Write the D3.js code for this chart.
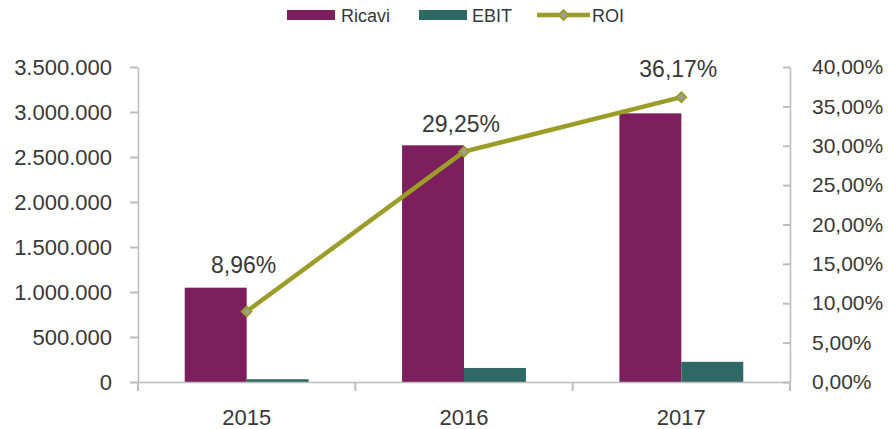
<!DOCTYPE html>
<html>
<head>
<meta charset="utf-8">
<script src="https://cdn.jsdelivr.net/npm/d3@7"></script>
<style>
  body { margin: 0; background: #fff; }
  text { font-family: "Liberation Sans", Arial, sans-serif; fill: #383838; }
</style>
</head>
<body>
<div class="chart"></div>
<script>
// data
var years = ["2015", "2016", "2017"];
var ricavi = [1048000, 2630000, 2985000];
var ebit = [31000, 156000, 224000];
var roi = [0.0896, 0.2925, 0.3617];
var roiLabels = ["8,96%", "29,25%", "36,17%"];
var leftTicks = [0, 500000, 1000000, 1500000, 2000000, 2500000, 3000000, 3500000];
var rightTicks = [0, 0.05, 0.10, 0.15, 0.20, 0.25, 0.30, 0.35, 0.40];

var margin = {top: 67, right: 98, bottom: 47, left: 138},
  width = 888 - margin.left - margin.right,
  height = 429 - margin.top - margin.bottom;

var colRicavi = "#7d1f5d",
  colEbit = "#2f6966",
  colRoi = "#9c9c29",
  colAxis = "#bcbcbc";

var it = d3.formatLocale({decimal: ",", thousands: ".", grouping: [3], currency: ["", "€"]});
var fmtNum = it.format(",d");
var fmtPct = it.format(".2%");

var svg = d3.select(".chart").append("svg")
    .attr("width", 888)
    .attr("height", 429);

var g = svg.append("g")
    .attr("transform", "translate(" + margin.left + "," + margin.top + ")");

var x0 = d3.scaleBand()
    .domain(years)
    .range([0, width])
    .paddingInner(0.43)
    .paddingOuter(0.215);

var x1 = d3.scaleBand()
    .domain(["Ricavi", "EBIT"])
    .range([0, x0.bandwidth()]);

var yL = d3.scaleLinear().domain([0, 3500000]).range([height, 0]);
var yR = d3.scaleLinear().domain([0, 0.40]).range([height, 0]);

// bars
var groups = g.selectAll(".year")
  .data(years)
  .enter().append("g")
    .attr("class", "year")
    .attr("transform", function(d) { return "translate(" + x0(d) + ",0)"; });

groups.append("rect")
    .attr("x", x1("Ricavi"))
    .attr("y", function(d, i) { return yL(ricavi[i]); })
    .attr("width", x1.bandwidth())
    .attr("height", function(d, i) { return height - yL(ricavi[i]); })
    .attr("fill", colRicavi);

groups.append("rect")
    .attr("x", x1("EBIT"))
    .attr("y", function(d, i) { return yL(ebit[i]); })
    .attr("width", x1.bandwidth())
    .attr("height", function(d, i) { return height - yL(ebit[i]); })
    .attr("fill", colEbit);

// left axis
var axL = g.append("g")
    .call(d3.axisLeft(yL).tickValues(leftTicks).tickFormat(fmtNum).tickSize(8).tickSizeOuter(0).tickPadding(18));
axL.selectAll("text").style("font-size", "22px");

// right axis, ticks pointing into the plot
var axR = g.append("g")
    .attr("transform", "translate(" + width + ",0)")
    .call(d3.axisRight(yR).tickValues(rightTicks).tickFormat(fmtPct).tickSize(-7).tickSizeOuter(0).tickPadding(22));
axR.selectAll("text").style("font-size", "21px");

// bottom axis with ticks at category boundaries
var axB = g.append("g")
    .attr("transform", "translate(0," + height + ")")
    .call(d3.axisBottom(x0).tickSize(0).tickPadding(27));
axB.selectAll("text").style("font-size", "22px");
var edges = years.map(function(d) { return x0(d) - x0.step() * x0.paddingInner() / 2; });
edges.push(width);
axB.selectAll(".edge")
  .data(edges)
  .enter().append("line")
    .attr("class", "edge")
    .attr("x1", function(d) { return d; })
    .attr("x2", function(d) { return d; })
    .attr("y1", 0)
    .attr("y2", 9);

svg.selectAll(".domain, .tick line, .edge")
    .attr("stroke", colAxis)
    .attr("stroke-width", 2);
svg.selectAll(".domain").attr("stroke-width", 1.5);

// ROI line
var xr = function(d, i) { return x0(years[i]) + x0.bandwidth() / 2; };
var line = d3.line()
    .x(function(d, i) { return xr(d, i); })
    .y(function(d) { return yR(d); });

g.append("path")
    .datum(roi)
    .attr("fill", "none")
    .attr("stroke", colRoi)
    .attr("stroke-width", 4.5)
    .attr("d", line);

var diamond = d3.symbol().type(d3.symbolDiamond2).size(60);
g.selectAll(".marker")
  .data(roi)
  .enter().append("path")
    .attr("class", "marker")
    .attr("transform", function(d, i) { return "translate(" + xr(d, i) + "," + yR(d) + ")"; })
    .attr("d", diamond)
    .attr("fill", "#9d9d9d")
    .attr("stroke", colRoi)
    .attr("stroke-width", 2);

// first label sits above the bar, the others just over the marker
g.selectAll(".lbl")
  .data(roi)
  .enter().append("text")
    .attr("class", "lbl")
    .attr("x", function(d, i) { return xr(d, i) - 3; })
    .attr("y", function(d, i) { return i === 0 ? yR(d) - 38 : yR(d) - 20; })
    .attr("text-anchor", "middle")
    .style("font-size", "23px")
    .text(function(d, i) { return roiLabels[i]; });

// legend
var legend = svg.append("g").attr("transform", "translate(0,15)");
legend.append("rect").attr("x", 287).attr("y", -5).attr("width", 48).attr("height", 10).attr("fill", colRicavi);
legend.append("text").attr("x", 341).attr("y", 7).style("font-size", "18px").text("Ricavi");
legend.append("rect").attr("x", 419).attr("y", -5).attr("width", 48).attr("height", 10).attr("fill", colEbit);
legend.append("text").attr("x", 472).attr("y", 7).style("font-size", "18px").text("EBIT");
legend.append("line").attr("x1", 537).attr("x2", 590).attr("y1", 0).attr("y2", 0)
    .attr("stroke", colRoi).attr("stroke-width", 4.5);
legend.append("path").attr("transform", "translate(563.5,0)").attr("d", diamond)
    .attr("fill", "#9d9d9d").attr("stroke", colRoi).attr("stroke-width", 2);
legend.append("text").attr("x", 592).attr("y", 7).style("font-size", "18px").text("ROI");
</script>
</body>
</html>
